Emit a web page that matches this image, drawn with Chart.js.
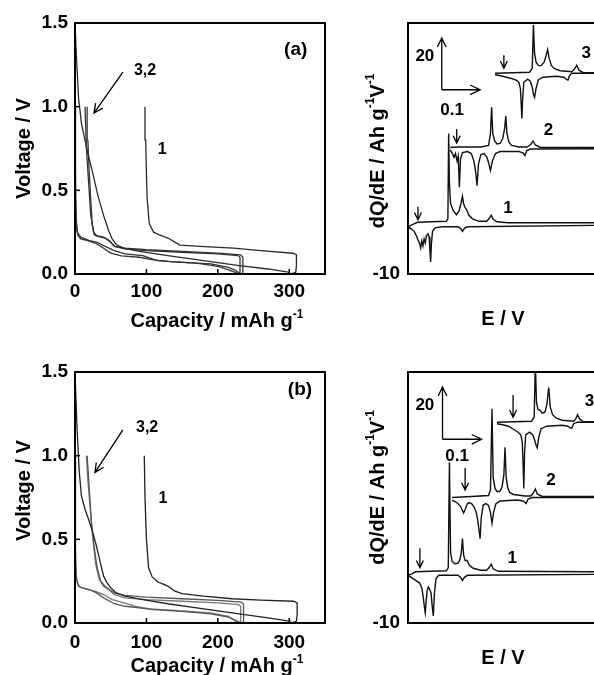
<!DOCTYPE html>
<html>
<head>
<meta charset="utf-8">
<script src="https://cdn.jsdelivr.net/npm/chart.js@4/dist/chart.umd.min.js"></script>
<style>
  body { margin: 0; background: #fff; }
  #wrap { position: relative; width: 594px; height: 675px; overflow: hidden; }
  canvas { position: absolute; }
</style>
</head>
<body>
<div id="wrap">
  <canvas id="va" width="340" height="340" style="left:0;top:0"></canvas>
  <canvas id="qa" width="254" height="340" style="left:340px;top:0"></canvas>
  <canvas id="vb" width="340" height="335" style="left:0;top:340px"></canvas>
  <canvas id="qb" width="254" height="335" style="left:340px;top:340px"></canvas>
</div>
<script>
const F = '"Liberation Sans", Arial, Helvetica, sans-serif';

// ---- voltage profiles, [capacity mAh/g, voltage V] ----
const capTicks = [0, 100, 200, 300];
const voltTicks = [0, 0.5, 1.0, 1.5];

// (a)
const aDis1 = [[0,1.5],[2,1.3],[5,1.05],[9,0.9],[12,0.84],[18,0.72],[25,0.6],[32,0.47],[40,0.35],[47,0.26],[52,0.21],[58,0.175],[68,0.155],[90,0.135],[130,0.11],[180,0.08],[230,0.05],[270,0.03],[301,0.01]];
const aCha1 = [[301,0],[309,0.01],[310,0.05],[310,0.115],[305,0.124],[260,0.14],[222,0.155],[175,0.165],[147,0.173],[138,0.195],[130,0.215],[124,0.225],[117,0.235],[110,0.25],[104,0.3],[101,0.45],[100,0.6],[99,0.8],[98,1.0]];
const aDis2 = [[0,1.0],[0.5,0.7],[1,0.45],[2,0.3],[4,0.23],[8,0.21],[18,0.2],[28,0.185],[38,0.16],[50,0.125],[65,0.108],[90,0.1],[110,0.085],[130,0.075],[170,0.065],[200,0.045],[215,0.025],[230,0]];
const aDis3 = [[0,0.95],[0.5,0.6],[1.5,0.35],[3,0.25],[8,0.22],[20,0.2],[30,0.19],[40,0.17],[55,0.14],[70,0.12],[95,0.11],[115,0.08],[150,0.07],[190,0.06],[215,0.04],[225,0.02],[232,0]];
const aCha2 = [[233,0],[235,0.01],[235,0.1],[232,0.115],[200,0.125],[150,0.135],[100,0.145],[70,0.155],[56,0.165],[50,0.19],[42,0.215],[32,0.225],[27,0.235],[24,0.3],[22,0.45],[20,0.6],[18,0.8],[17,1.0]];
const aCha3 = [[229,0],[231,0.01],[231,0.1],[228,0.11],[200,0.12],[150,0.13],[100,0.14],[70,0.15],[55,0.165],[48,0.2],[40,0.22],[30,0.23],[26,0.25],[22,0.35],[19,0.55],[16,0.75],[14,1.0]];

// (b)
const bDis1 = [[0,1.5],[3,1.15],[6,0.9],[9,0.76],[14,0.68],[19,0.62],[25,0.54],[30,0.46],[35,0.37],[40,0.28],[45,0.24],[50,0.21],[58,0.18],[70,0.16],[95,0.14],[130,0.115],[180,0.085],[230,0.055],[270,0.03],[302,0.01]];
const bCha1 = [[302,0],[310,0.01],[311,0.05],[311,0.12],[306,0.13],[260,0.137],[220,0.145],[180,0.16],[150,0.175],[140,0.19],[130,0.22],[122,0.235],[116,0.245],[108,0.275],[103,0.33],[100,0.5],[98,0.75],[97,1.0]];
const bDis2 = [[0,1.0],[0.5,0.6],[1,0.38],[2,0.27],[5,0.22],[10,0.21],[20,0.2],[30,0.18],[40,0.15],[55,0.115],[70,0.1],[90,0.09],[110,0.08],[150,0.07],[190,0.055],[215,0.035],[233,0]];
const bDis3 = [[0,0.75],[0.5,0.45],[1.5,0.3],[3,0.24],[7,0.215],[18,0.2],[28,0.19],[40,0.17],[52,0.14],[65,0.125],[85,0.1],[105,0.085],[140,0.075],[190,0.06],[215,0.04],[228,0]];
const bCha2 = [[234,0],[236,0.01],[236,0.11],[233,0.125],[200,0.135],[150,0.145],[100,0.155],[70,0.165],[55,0.18],[48,0.2],[42,0.22],[36,0.25],[31,0.33],[27,0.45],[23,0.6],[20,0.8],[17,1.0]];
const bCha3 = [[230,0],[232,0.01],[232,0.1],[229,0.11],[200,0.12],[150,0.13],[100,0.14],[70,0.15],[55,0.17],[47,0.2],[40,0.22],[34,0.26],[29,0.35],[25,0.5],[21,0.7],[18,0.85],[16,1.0]];

// ---- dQ/dE, [E V, dQ/dE] per cycle, before stacking ----
const aQ1c = [[0,-0.6],[0.01,-0.2],[0.025,0.3],[0.06,0.4],[0.1,0.5],[0.104,1],[0.106,18],[0.108,8],[0.111,4],[0.118,2.6],[0.126,1.8],[0.133,2.5],[0.138,4],[0.142,5.5],[0.145,4],[0.149,3.2],[0.153,2.8],[0.158,1.8],[0.168,1],[0.185,0.5],[0.205,0.5],[0.211,1],[0.217,1.7],[0.222,0.9],[0.232,0.4],[0.26,0.2],[0.5,0.2]];
const aQ1d = [[0,-0.6],[0.008,-1],[0.016,-1.5],[0.022,-2.4],[0.026,-3.2],[0.03,-3.8],[0.033,-4.8],[0.036,-3.4],[0.039,-4.4],[0.042,-3],[0.045,-3.8],[0.048,-2.4],[0.052,-2],[0.055,-2.6],[0.057,-5],[0.059,-7.6],[0.061,-4],[0.064,-1.5],[0.07,-0.8],[0.09,-0.6],[0.13,-0.6],[0.137,-0.9],[0.142,-1.5],[0.147,-0.9],[0.155,-0.6],[0.5,-0.3]];
const aQ2c = [[0,0.2],[0.02,0.3],[0.08,0.3],[0.1,0.6],[0.105,3],[0.108,8.2],[0.111,3],[0.116,1.5],[0.122,0.9],[0.13,1],[0.137,2],[0.142,4],[0.145,6.5],[0.148,3],[0.153,1.3],[0.16,0.6],[0.18,0.3],[0.2,0.3],[0.21,0.8],[0.216,1.5],[0.222,0.7],[0.235,0.2],[0.5,0.2]];
const aQ2d = [[0,-0.3],[0.006,-1],[0.01,-1.8],[0.014,-1],[0.018,-2.5],[0.021,-1.5],[0.024,-7.7],[0.027,-2],[0.032,-0.8],[0.045,-0.6],[0.055,-1],[0.062,-2.5],[0.067,-5],[0.07,-7.4],[0.074,-3],[0.08,-1.2],[0.088,-1],[0.095,-1.6],[0.1,-2.8],[0.105,-4.4],[0.11,-2.5],[0.118,-1],[0.13,-0.6],[0.18,-0.6],[0.19,-0.9],[0.195,-1.4],[0.2,-0.4],[0.21,-0.1],[0.5,0]];
const aQ3c = [[0,0],[0.09,0.2],[0.097,1],[0.1,9.6],[0.103,4],[0.107,2.2],[0.113,1.5],[0.12,1.5],[0.128,2.2],[0.133,3.5],[0.137,4.7],[0.141,3],[0.147,1.5],[0.155,0.9],[0.17,0.5],[0.2,0.3],[0.207,0.8],[0.213,1.6],[0.219,0.6],[0.23,0.1],[0.5,0.1]];
const aQ3d = [[0,-0.3],[0.015,-0.5],[0.03,-0.8],[0.045,-1.1],[0.055,-1.4],[0.062,-1.8],[0.066,-3],[0.068,-6],[0.07,-9],[0.072,-5],[0.075,-1.8],[0.085,-1.2],[0.092,-1.6],[0.097,-2.8],[0.1,-4.2],[0.103,-4.8],[0.107,-3],[0.113,-1.3],[0.125,-0.8],[0.16,-0.6],[0.18,-0.8],[0.186,-1.2],[0.19,-1.4],[0.194,-0.5],[0.2,0],[0.5,0]];

const bQ1c = [[0,-0.5],[0.01,-0.2],[0.02,0.2],[0.06,0.3],[0.1,0.4],[0.105,1],[0.108,22],[0.111,4],[0.115,2.3],[0.122,1.8],[0.13,1.9],[0.135,2.5],[0.139,4],[0.142,6.8],[0.145,3.5],[0.149,2.4],[0.154,2.5],[0.16,1.5],[0.17,0.9],[0.19,0.5],[0.205,0.5],[0.211,1],[0.217,1.7],[0.222,0.8],[0.235,0.3],[0.5,0.2]];
const bQ1d = [[0,-0.5],[0.01,-1],[0.02,-1.5],[0.03,-2],[0.036,-3],[0.04,-5],[0.043,-7],[0.045,-8],[0.047,-6],[0.05,-3.5],[0.053,-2.8],[0.056,-3.2],[0.06,-4],[0.063,-6.5],[0.066,-8.6],[0.069,-4],[0.073,-1.2],[0.08,-0.5],[0.13,-0.5],[0.137,-0.9],[0.142,-1.5],[0.147,-0.9],[0.155,-0.5],[0.5,-0.3]];
const bQ2c = [[0,0],[0.05,0.2],[0.095,0.4],[0.1,1.5],[0.104,17.7],[0.107,4],[0.112,1.8],[0.117,1.2],[0.124,1.2],[0.13,2],[0.135,4.5],[0.138,10],[0.141,4],[0.145,2],[0.15,1],[0.16,0.6],[0.19,0.3],[0.205,0.3],[0.211,0.8],[0.217,1.7],[0.222,0.7],[0.235,0.2],[0.5,0.2]];
const bQ2d = [[0,-0.5],[0.008,-0.8],[0.015,-1.2],[0.022,-1.8],[0.027,-2.6],[0.03,-3.1],[0.034,-2.4],[0.04,-1.2],[0.045,-1],[0.052,-1.3],[0.058,-2],[0.063,-3],[0.067,-4.6],[0.071,-7],[0.073,-8.2],[0.076,-4],[0.081,-1.5],[0.088,-1.2],[0.095,-1.6],[0.1,-3],[0.104,-5.1],[0.108,-3],[0.114,-1.3],[0.125,-0.7],[0.17,-0.5],[0.185,-0.7],[0.19,-1],[0.193,-1.2],[0.198,-0.3],[0.21,0],[0.5,0]];
const bQ3c = [[0,0],[0.09,0.2],[0.097,1],[0.1,12],[0.103,4],[0.107,2.5],[0.112,2.4],[0.118,1.8],[0.125,2],[0.13,3.5],[0.135,6.9],[0.139,3],[0.145,1.5],[0.155,0.8],[0.17,0.4],[0.2,0.2],[0.205,0.6],[0.21,1.5],[0.216,0.6],[0.225,0.1],[0.5,0.1]];
const bQ3d = [[0,-0.3],[0.015,-0.5],[0.03,-0.8],[0.045,-1.5],[0.055,-2],[0.062,-2.5],[0.066,-4],[0.068,-8],[0.07,-13.2],[0.072,-6],[0.075,-2.5],[0.085,-2],[0.093,-2.5],[0.098,-3.5],[0.102,-4.6],[0.105,-5.1],[0.109,-3],[0.115,-1.3],[0.13,-0.8],[0.17,-0.6],[0.185,-0.8],[0.19,-1.1],[0.195,-1.2],[0.2,-0.3],[0.21,0],[0.5,0]];

// stacking of the three cycles (E shift, dQ/dE shift)
const aShiftE = [0, 0.11, 0.227];
const bShiftE = [0, 0.115, 0.232];
const shiftQ = [0, 15, 30];
const qTicks = [-10];

function pts(a, dx = 0, dy = 0) {
  return a.map(([x, y]) => ({ x: x + dx, y: y + dy }));
}

function line(data, color, width) {
  return { data, showLine: true, borderColor: color, borderWidth: width,
           pointRadius: 0, pointHoverRadius: 0, tension: 0 };
}

function drawRuns(ctx, runs, cx, cy, size) {
  const fontFor = sup => `bold ${sup ? Math.round(size * 0.62) : size}px ${F}`;
  let total = 0;
  for (const [t, sup] of runs) { ctx.font = fontFor(sup); total += ctx.measureText(t).width; }
  let x = cx - total / 2;
  ctx.textAlign = 'left';
  ctx.textBaseline = 'middle';
  for (const [t, sup] of runs) {
    ctx.font = fontFor(sup);
    ctx.fillText(t, x, sup ? cy - size * 0.36 : cy);
    x += ctx.measureText(t).width;
  }
}

function arrow(ctx, x1, y1, x2, y2, len, ang) {
  const a = Math.atan2(y2 - y1, x2 - x1);
  ctx.beginPath();
  ctx.moveTo(x1, y1);
  ctx.lineTo(x2, y2);
  ctx.moveTo(x2 - len * Math.cos(a - ang), y2 - len * Math.sin(a - ang));
  ctx.lineTo(x2, y2);
  ctx.lineTo(x2 - len * Math.cos(a + ang), y2 - len * Math.sin(a + ang));
  ctx.stroke();
}

// frame, inward ticks, titles, labels, arrows
function decor(o) {
  return {
    id: 'decor',
    afterDraw(chart) {
      const { ctx, chartArea: ca } = chart;
      const xs = chart.scales.x, ys = chart.scales.y;
      ctx.save();
      ctx.strokeStyle = '#000';
      ctx.fillStyle = '#000';
      ctx.lineWidth = 2;
      ctx.beginPath();
      if (o.box) {
        ctx.rect(ca.left, ca.top, ca.right - ca.left, ca.bottom - ca.top);
      } else {
        ctx.moveTo(ca.right + 2, ca.top);
        ctx.lineTo(ca.left, ca.top);
        ctx.lineTo(ca.left, ca.bottom);
        ctx.lineTo(ca.right + 2, ca.bottom);
      }
      ctx.stroke();

      ctx.lineWidth = 1.5;
      for (const v of o.xIn || []) {
        const p = xs.getPixelForValue(v);
        ctx.beginPath(); ctx.moveTo(p, ca.bottom); ctx.lineTo(p, ca.bottom - 5); ctx.stroke();
      }
      for (const v of o.yIn || []) {
        const p = ys.getPixelForValue(v);
        ctx.beginPath(); ctx.moveTo(ca.left, p); ctx.lineTo(ca.left + 5, p); ctx.stroke();
      }

      drawRuns(ctx, o.xTitle.runs, (ca.left + ca.right) / 2 + o.xTitle.dx, ca.bottom + o.xTitle.dy, 20);
      ctx.save();
      ctx.translate(ca.left + o.yTitle.dx, (ca.top + ca.bottom) / 2 + o.yTitle.dy);
      ctx.rotate(-Math.PI / 2);
      drawRuns(ctx, o.yTitle.runs, 0, 0, 20);
      ctx.restore();

      ctx.textAlign = 'center';
      ctx.textBaseline = 'middle';
      for (const [t, x, y, s] of o.labels) {
        ctx.font = `bold ${s}px ${F}`;
        ctx.fillText(t, xs.getPixelForValue(x), ys.getPixelForValue(y));
      }

      ctx.lineWidth = 1.3;
      for (const [x1, y1, x2, y2, len] of o.arrows) {
        arrow(ctx, xs.getPixelForValue(x1), ys.getPixelForValue(y1),
              xs.getPixelForValue(x2), ys.getPixelForValue(y2), len, 0.45);
      }
      ctx.restore();
    }
  };
}

const tickFont = { family: F, size: 19, weight: 'bold' };

function voltageChart(id, curves, top, xAxisH, xPad, o) {
  return new Chart(document.getElementById(id), {
    type: 'scatter',
    data: { datasets: curves.map(([c, col]) => line(pts(c), col, 1.3)) },
    options: {
      responsive: false,
      animation: false,
      layout: { padding: { top, right: 15, left: 0, bottom: 0 } },
      plugins: { legend: { display: false }, tooltip: { enabled: false } },
      scales: {
        x: {
          type: 'linear', min: 0, max: 350,
          afterBuildTicks: ax => { ax.ticks = capTicks.map(value => ({ value })); },
          afterFit: ax => { ax.height = xAxisH; },
          ticks: { font: tickFont, color: '#000', padding: xPad, maxRotation: 0, callback: v => String(v) },
          grid: { display: false, drawTicks: false },
          border: { display: false }
        },
        y: {
          min: 0, max: 1.5,
          afterBuildTicks: ax => { ax.ticks = voltTicks.map(value => ({ value })); },
          afterFit: ax => { ax.width = 75; },
          ticks: { font: tickFont, color: '#000', padding: 7, callback: v => Number(v).toFixed(1) },
          grid: { display: false, drawTicks: false },
          border: { display: false }
        }
      }
    },
    plugins: [decor(o)]
  });
}

function dqdeChart(id, cycles, shiftE, top, xAxisH, o) {
  const datasets = [];
  cycles.forEach(([c, d], i) => {
    datasets.push(line(pts(d, shiftE[i], shiftQ[i]), '#111', 1.4));
    datasets.push(line(pts(c, shiftE[i], shiftQ[i]), '#111', 1.4));
  });
  return new Chart(document.getElementById(id), {
    type: 'scatter',
    data: { datasets },
    options: {
      responsive: false,
      animation: false,
      layout: { padding: { top, right: 0, left: 0, bottom: 0 } },
      plugins: { legend: { display: false }, tooltip: { enabled: false } },
      scales: {
        x: {
          type: 'linear', min: 0, max: 0.485,
          afterFit: ax => { ax.height = xAxisH; },
          ticks: { display: false },
          grid: { display: false, drawTicks: false },
          border: { display: false }
        },
        y: {
          min: -10, max: 40,
          afterBuildTicks: ax => { ax.ticks = qTicks.map(value => ({ value })); },
          afterFit: ax => { ax.width = 68; },
          ticks: { font: tickFont, color: '#000', padding: 8 },
          grid: { display: false, drawTicks: false },
          border: { display: false }
        }
      }
    },
    plugins: [decor(o)]
  });
}

const capTitle = { runs: [['Capacity / mAh g', false], ['-1', true]], dx: 17, dy: 47.5 };
const voltTitle = { runs: [['Voltage / V', false]], dx: -51, dy: 0 };
const eTitle = { runs: [['E / V', false]], dx: 2, dy: 45.5 };
const qTitle = { runs: [['dQ/dE / Ah g', false], ['-1', true], ['V', false], ['-1', true]], dx: -30, dy: 2.5 };

voltageChart('va', [[aDis1, '#2a2a2a'], [aCha1, '#2a2a2a'], [aDis2, '#333'], [aDis3, '#333'], [aCha2, '#333'], [aCha3, '#333']],
  23, 66, 6, {
    box: true, xIn: [100, 200, 300], yIn: [0.5, 1.0],
    xTitle: capTitle, yTitle: voltTitle,
    labels: [['(a)', 309, 1.339, 19], ['3,2', 98, 1.213, 16], ['1', 122, 0.741, 16]],
    arrows: [[67, 1.207, 26.6, 0.962, 10]]
  });

dqdeChart('qa', [[aQ1c, aQ1d], [aQ2c, aQ2d], [aQ3c, aQ3d]], aShiftE, 23, 66, {
  box: false, xTitle: eTitle, yTitle: qTitle,
  labels: [['20', 0.044, 33.4, 17], ['0.1', 0.115, 22.7, 17], ['3', 0.465, 34, 17], ['2', 0.366, 18.7, 17], ['1', 0.261, 3.1, 17]],
  arrows: [[0.088, 26.7, 0.088, 37, 10], [0.088, 26.7, 0.188, 26.7, 11],
           [0.026, 3.4, 0.026, 0.8, 8], [0.127, 18.9, 0.127, 16.1, 8], [0.25, 33.6, 0.25, 31, 8]]
});

voltageChart('vb', [[bDis1, '#222'], [bCha1, '#222'], [bDis2, '#555'], [bDis3, '#777'], [bCha2, '#555'], [bCha3, '#777']],
  32, 52, 8, {
    box: true, xIn: [100, 200, 300], yIn: [0.5, 1.0],
    xTitle: { runs: capTitle.runs, dx: 17, dy: 43.5 }, yTitle: { runs: voltTitle.runs, dx: -51, dy: -7 },
    labels: [['(b)', 315, 1.393, 19], ['3,2', 101, 1.166, 16], ['1', 123, 0.741, 16]],
    arrows: [[67, 1.154, 28, 0.9, 10]]
  });

dqdeChart('qb', [[bQ1c, bQ1d], [bQ2c, bQ2d], [bQ3c, bQ3d]], bShiftE, 32, 52, {
  box: false, xTitle: { runs: eTitle.runs, dx: 2, dy: 35 }, yTitle: { runs: qTitle.runs, dx: -30, dy: -10 },
  labels: [['20', 0.044, 33.4, 17], ['0.1', 0.128, 23.3, 17], ['3', 0.473, 34.2, 17], ['2', 0.373, 18.5, 17], ['1', 0.272, 2.9, 17]],
  arrows: [[0.09, 26.6, 0.09, 37, 10], [0.09, 26.6, 0.192, 26.6, 11],
           [0.031, 4.9, 0.031, 1.0, 8], [0.149, 20.9, 0.149, 16.5, 8], [0.274, 35.4, 0.274, 31, 8]]
});
</script>
</body>
</html>
